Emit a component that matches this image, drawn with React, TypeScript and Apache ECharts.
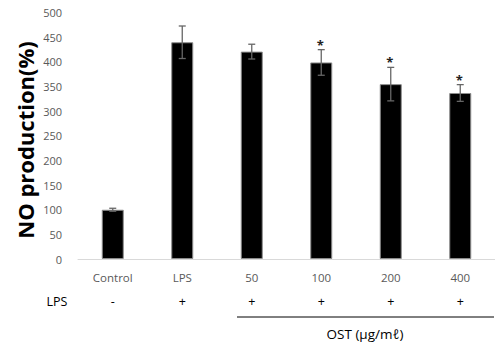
import React, { useEffect, useRef } from "react";
import * as echarts from "echarts";

const categories = ["Control", "LPS", "50", "100", "200", "400"];
const lpsSigns = ["-", "+", "+", "+", "+", "+"];
const values = [100, 440, 421, 399, 355, 337];
const errors = [3, 33, 15, 26, 34, 17];
const significant = [false, false, false, true, true, true];
const yTicks = { min: 0, max: 500, interval: 50 };

export default function App() {
  const ref = useRef<HTMLDivElement>(null);
  useEffect(() => {
    if (!ref.current) return;
    const chart = echarts.init(ref.current, null, { renderer: "svg" });
    const font = "'Open Sans', 'Noto Sans', sans-serif";
    chart.setOption({
      animation: false,
      grid: { left: 78, right: -8, top: 12.7, bottom: 86 },
      xAxis: {
        type: "category",
        data: categories,
        axisLine: { lineStyle: { color: "#d9d9d9", width: 1 } },
        axisTick: { show: false },
        axisLabel: {
          interval: 0,
          margin: 6,
          formatter: (v: string, i: number) => `{a|${v}}\n{b|${lpsSigns[i]}}`,
          rich: {
            a: { color: "#595959", fontSize: 11.5, fontFamily: font, lineHeight: 24 },
            b: { color: "#000", fontSize: 12.5, fontFamily: font, lineHeight: 24 },
          },
        },
      },
      yAxis: {
        type: "value",
        min: yTicks.min,
        max: yTicks.max,
        interval: yTicks.interval,
        axisLine: { show: false },
        axisTick: { show: false },
        splitLine: { show: false },
        axisLabel: { color: "#595959", fontSize: 11, fontFamily: font, margin: 16 },
      },
      graphic: [
        {
          type: "text",
          x: 25,
          y: 140,
          rotation: Math.PI / 2,
          style: {
            text: "NO production(%)",
            fontSize: 22,
            fontWeight: "bold",
            fontFamily: font,
            fill: "#000",
            align: "center",
            verticalAlign: "middle",
          },
        },
        {
          type: "text",
          x: 57,
          y: 301,
          style: {
            text: "LPS",
            fontSize: 12.5,
            fontFamily: font,
            fill: "#000",
            align: "center",
            verticalAlign: "middle",
          },
        },
        {
          type: "line",
          shape: { x1: 237, y1: 317, x2: 494, y2: 317 },
          style: { stroke: "#000", lineWidth: 1 },
        },
        {
          type: "text",
          x: 365,
          y: 334,
          style: {
            text: "OST (μg/mℓ)",
            fontSize: 13.5,
            fontFamily: font,
            fill: "#000",
            align: "center",
            verticalAlign: "middle",
          },
        },
      ],
      series: [
        {
          type: "bar",
          data: values,
          barWidth: 22,
          itemStyle: { color: "#000", borderColor: "#8c8c8c", borderWidth: 1 },
        },
        {
          type: "custom",
          data: values.map((v, i) => [i, v, errors[i], significant[i] ? 1 : 0]),
          renderItem: (params: any, api: any) => {
            const i = api.value(0);
            const v = api.value(1);
            const e = api.value(2);
            const sig = api.value(3);
            const top = api.coord([i, v + e]);
            const bot = api.coord([i, v - e]);
            const hw = 3.5;
            const style = { stroke: "#666", lineWidth: 1.3 };
            const children: any[] = [
              { type: "line", shape: { x1: top[0], y1: top[1], x2: bot[0], y2: bot[1] }, style },
              { type: "line", shape: { x1: top[0] - hw, y1: top[1], x2: top[0] + hw, y2: top[1] }, style },
              { type: "line", shape: { x1: bot[0] - hw, y1: bot[1], x2: bot[0] + hw, y2: bot[1] }, style },
            ];
            if (sig) {
              children.push({
                type: "text",
                x: top[0] - 1,
                y: top[1] - 5,
                style: {
                  text: "*",
                  fontSize: 13,
                  fontWeight: "bold",
                  fontFamily: font,
                  fill: "#222",
                  align: "center",
                  verticalAlign: "middle",
                },
              });
            }
            return { type: "group", children };
          },
          z: 5,
        },
      ],
    });
    return () => chart.dispose();
  }, []);
  return (
    <div
      ref={ref}
      style={{ width: 495, height: 345, position: "fixed", left: 0, top: 0, background: "#fff" }}
    />
  );
}
